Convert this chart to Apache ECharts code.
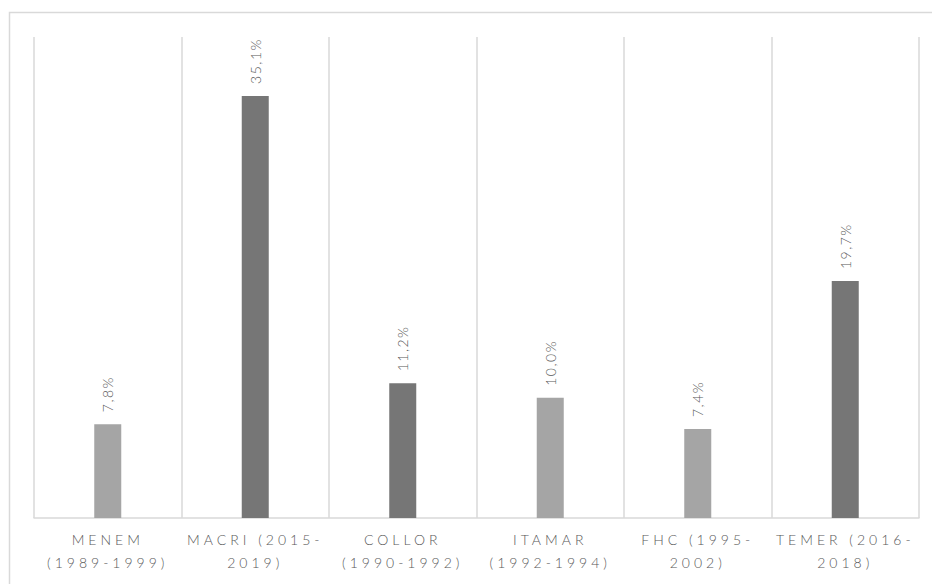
<!DOCTYPE html>
<html>
<head>
<meta charset="utf-8">
<script src="https://cdn.jsdelivr.net/npm/echarts@6/dist/echarts.min.js"></script>
<style>
  html, body { margin: 0; padding: 0; background: #fff; }
  #chart { width: 932px; height: 584px; }
  /* spaced-out lettering for the axis and value labels */
  #chart text { letter-spacing: 1.5px; }
  #chart text[style*="Carlito"] { letter-spacing: 4px; }
</style>
</head>
<body>
<div id="chart"></div>
<script>
// Presidents and the share each one reached
const presidents = [
  'MENEM\n(1989-1999)',
  'MACRI (2015-\n2019)',
  'COLLOR\n(1990-1992)',
  'ITAMAR\n(1992-1994)',
  'FHC (1995-\n2002)',
  'TEMER (2016-\n2018)'
];
const shares = [7.8, 35.1, 11.2, 10.0, 7.4, 19.7];
const tone = ['light', 'dark', 'dark', 'light', 'light', 'dark'];

const toneColor = { light: '#a5a5a5', dark: '#767676' };
const fmtPct = v => v.toFixed(1).replace('.', ',') + '%';

const chart = echarts.init(document.getElementById('chart'), null, { renderer: 'svg' });
chart.setOption({
  animation: false,
  backgroundColor: '#ffffff',
  graphic: [{
    type: 'rect',
    shape: { x: 9.5, y: 12.5, width: 1000, height: 1000 },
    style: { fill: 'none', stroke: '#d9d9d9', lineWidth: 1.5 },
    silent: true
  }],
  grid: { left: 34, right: 13, top: 37, bottom: 66, containLabel: false },
  xAxis: {
    type: 'category',
    data: presidents,
    boundaryGap: true,
    axisTick: { show: false },
    axisLine: { lineStyle: { color: '#d9d9d9', width: 1.5 } },
    splitLine: { show: true, interval: 0, lineStyle: { color: '#d9d9d9', width: 1.5 } },
    axisLabel: {
      interval: 0,
      margin: 10,
      color: '#595959',
      fontFamily: 'Lato, Carlito, sans-serif',
      fontWeight: 300,
      fontSize: 14,
      lineHeight: 23,
      align: 'center'
    }
  },
  yAxis: {
    type: 'value',
    min: 0,
    max: 40,
    show: false,
    splitLine: { show: false }
  },
  series: [{
    type: 'bar',
    barWidth: 27,
    data: shares.map((v, i) => ({ value: v, itemStyle: { color: toneColor[tone[i]] } })),
    label: {
      show: true,
      position: 'top',
      rotate: 90,
      align: 'left',
      verticalAlign: 'middle',
      distance: 12,
      color: '#595959',
      fontFamily: 'Lato, sans-serif',
      fontWeight: 300,
      fontSize: 14,
      formatter: p => fmtPct(p.value)
    }
  }]
});
</script>
</body>
</html>
